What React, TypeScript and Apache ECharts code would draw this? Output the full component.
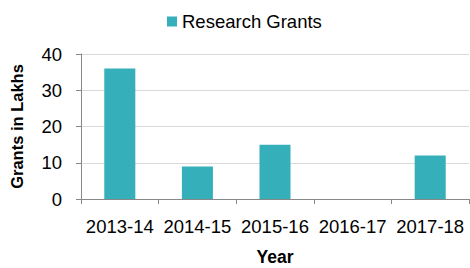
import React, { useEffect, useRef } from "react";
import * as echarts from "echarts";

const categories = ["2013-14", "2014-15", "2015-16", "2016-17", "2017-18"];
const grants = [36, 9, 15, 0, 12];
const seriesName = "Research Grants";

export default function App() {
  const ref = useRef<HTMLDivElement>(null);
  useEffect(() => {
    if (!ref.current) return;
    const chart = echarts.init(ref.current, undefined, { renderer: "svg" });
    const font = "Liberation Sans, Arial, sans-serif";
    chart.setOption({
      animation: false,
      legend: {
        data: [seriesName],
        top: 12,
        left: 167,
        padding: 0,
        itemWidth: 10,
        itemHeight: 10,
        itemGap: 6,
        icon: "rect",
        textStyle: { fontFamily: font, fontSize: 18.5, color: "#000" },
      },
      grid: { left: 81, top: 54, right: 1, bottom: 69, containLabel: false, outerBoundsMode: "none" },
      xAxis: {
        type: "category",
        data: categories,
        name: "Year",
        nameLocation: "middle",
        nameGap: 51,
        nameTextStyle: { fontFamily: font, fontSize: 17.5, lineHeight: 14, fontWeight: "bold", color: "#000" },
        axisLine: { lineStyle: { color: "#888" } },
        axisTick: { show: true, length: 5, lineStyle: { color: "#888" } },
        axisLabel: { fontFamily: font, fontSize: 18.5, color: "#000", margin: 18, interval: 0, hideOverlap: false },
      },
      yAxis: {
        type: "value",
        min: 0,
        max: 40,
        interval: 10,
        name: "Grants in Lakhs",
        nameLocation: "middle",
        nameGap: 56,
        nameTextStyle: { fontFamily: font, fontSize: 16.5, fontWeight: "bold", color: "#000" },
        axisLine: { show: true, lineStyle: { color: "#888" } },
        axisTick: { show: true, length: 5, lineStyle: { color: "#888" } },
        axisLabel: { fontFamily: font, fontSize: 18.5, color: "#000", margin: 19 },
        splitLine: { lineStyle: { color: "#d9d9d9" } },
      },
      series: [
        {
          name: seriesName,
          type: "bar",
          data: grants,
          barWidth: "40%",
          itemStyle: { color: "#35B0BB" },
        },
      ],
    });
    return () => chart.dispose();
  }, []);
  return <div ref={ref} style={{ width: 470, height: 268, position: "absolute", left: 0, top: 0 }} />;
}
